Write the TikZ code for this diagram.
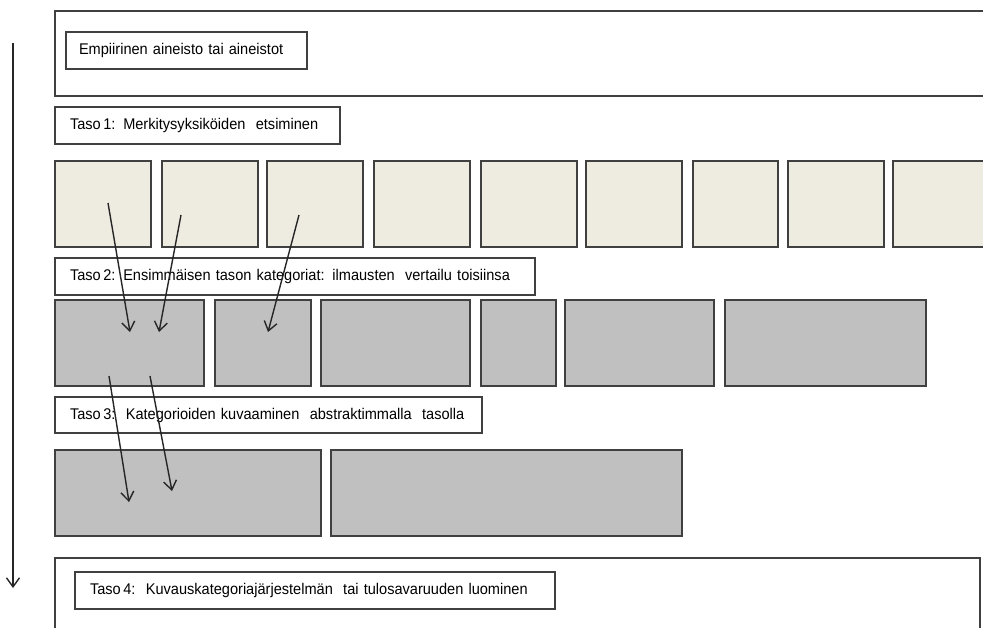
\documentclass[tikz,border=0pt]{standalone}
\usepackage{fontspec}
\setmainfont{Liberation Sans}[FakeStretch=0.94]
\usetikzlibrary{arrows.meta}
\definecolor{unitfill}{HTML}{EEEBE0}
\definecolor{catfill}{HTML}{C0C0C0}
\definecolor{edge}{HTML}{404040}
\tikzset{
  box/.style={draw=edge, line width=1.3pt, anchor=north west, inner sep=0pt, outer sep=0pt},
  plainbox/.style={box, fill=white},
  unitbox/.style={box, fill=unitfill},
  catbox/.style={box, fill=catfill},
  sz/.style 2 args={minimum width=#1, minimum height=#2},
  labelbox/.style={plainbox, inner xsep=15pt, align=left, font=\fontsize{15.5}{17}\selectfont},
  flow/.style={draw=black!85, line width=1.4pt, -{Straight Barb[length=9pt,width=13pt,line width=1.4pt]}},
}
\begin{document}
\begin{tikzpicture}[x=1pt,y=-1pt]
\useasboundingbox (0,0) rectangle (983,627);
\clip (0,0) rectangle (983,627);

% overall direction of the analysis
\coordinate (vtop) at (13,43);
\coordinate (vbot) at (13,588);
\draw[flow] (vtop) -- (vbot);

% data
\node[plainbox, sz={950pt}{85pt}] (data) at (55,11) {};
\node[labelbox, inner xsep=13pt, text width=215pt, minimum height=37pt] (datalbl) at (66,32) {Empiirinen aineisto tai aineistot};

% level 1
\node[labelbox, text width=255pt, minimum height=37pt] (l1) at (55,107) {Taso\,1: Merkitysyksiköiden \ etsiminen};
\node[unitbox, sz={96pt}{86pt}] (u1) at (55,161) {};
\node[unitbox, sz={96pt}{86pt}] (u2) at (162,161) {};
\node[unitbox, sz={96pt}{86pt}] (u3) at (267,161) {};
\node[unitbox, sz={96pt}{86pt}] (u4) at (374,161) {};
\node[unitbox, sz={96pt}{86pt}] (u5) at (481,161) {};
\node[unitbox, sz={96pt}{86pt}] (u6) at (586,161) {};
\node[unitbox, sz={85pt}{86pt}] (u7) at (693,161) {};
\node[unitbox, sz={96pt}{86pt}] (u8) at (788,161) {};
\node[unitbox, sz={96pt}{86pt}] (u9) at (893,161) {};

% level 2
\node[labelbox, text width=450pt, minimum height=37pt] (l2) at (55,258) {Taso\,2: Ensimmäisen tason kategoriat: ilmausten \ vertailu toisiinsa};
\node[catbox, sz={149pt}{86pt}] (c1) at (55,300) {};
\node[catbox, sz={96pt}{86pt}] (c2) at (215,300) {};
\node[catbox, sz={149pt}{86pt}] (c3) at (321,300) {};
\node[catbox, sz={75pt}{86pt}] (c4) at (481,300) {};
\node[catbox, sz={149pt}{86pt}] (c5) at (565,300) {};
\node[catbox, sz={201pt}{86pt}] (c6) at (725,300) {};

% level 3
\node[labelbox, text width=397pt, minimum height=36pt] (l3) at (55,397) {Taso\,3: \,Kategorioiden kuvaaminen \ abstraktimmalla \ tasolla};
\node[catbox, sz={266pt}{86pt}] (k1) at (55,450) {};
\node[catbox, sz={351pt}{86pt}] (k2) at (331,450) {};

% level 4
\node[plainbox, sz={925pt}{90pt}] (l4) at (55,558) {};
\node[labelbox, text width=450pt, minimum height=37pt] (l4lbl) at (75,572) {Taso\,4: \,Kuvauskategoriajärjestelmän \ tai tulosavaruuden luominen};

% units grouped into categories
\coordinate (a1s) at (108,203);  \coordinate (a1e) at (130,332);
\coordinate (a2s) at (181,215);  \coordinate (a2e) at (159,332);
\coordinate (a3s) at (299,215);  \coordinate (a3e) at (268,332);
\coordinate (a4s) at (109,376);  \coordinate (a4e) at (129,502);
\coordinate (a5s) at (150,376);  \coordinate (a5e) at (172,491);
\draw[flow] (a1s) -- (a1e);
\draw[flow] (a2s) -- (a2e);
\draw[flow] (a3s) -- (a3e);
\draw[flow] (a4s) -- (a4e);
\draw[flow] (a5s) -- (a5e);
\end{tikzpicture}
\end{document}
